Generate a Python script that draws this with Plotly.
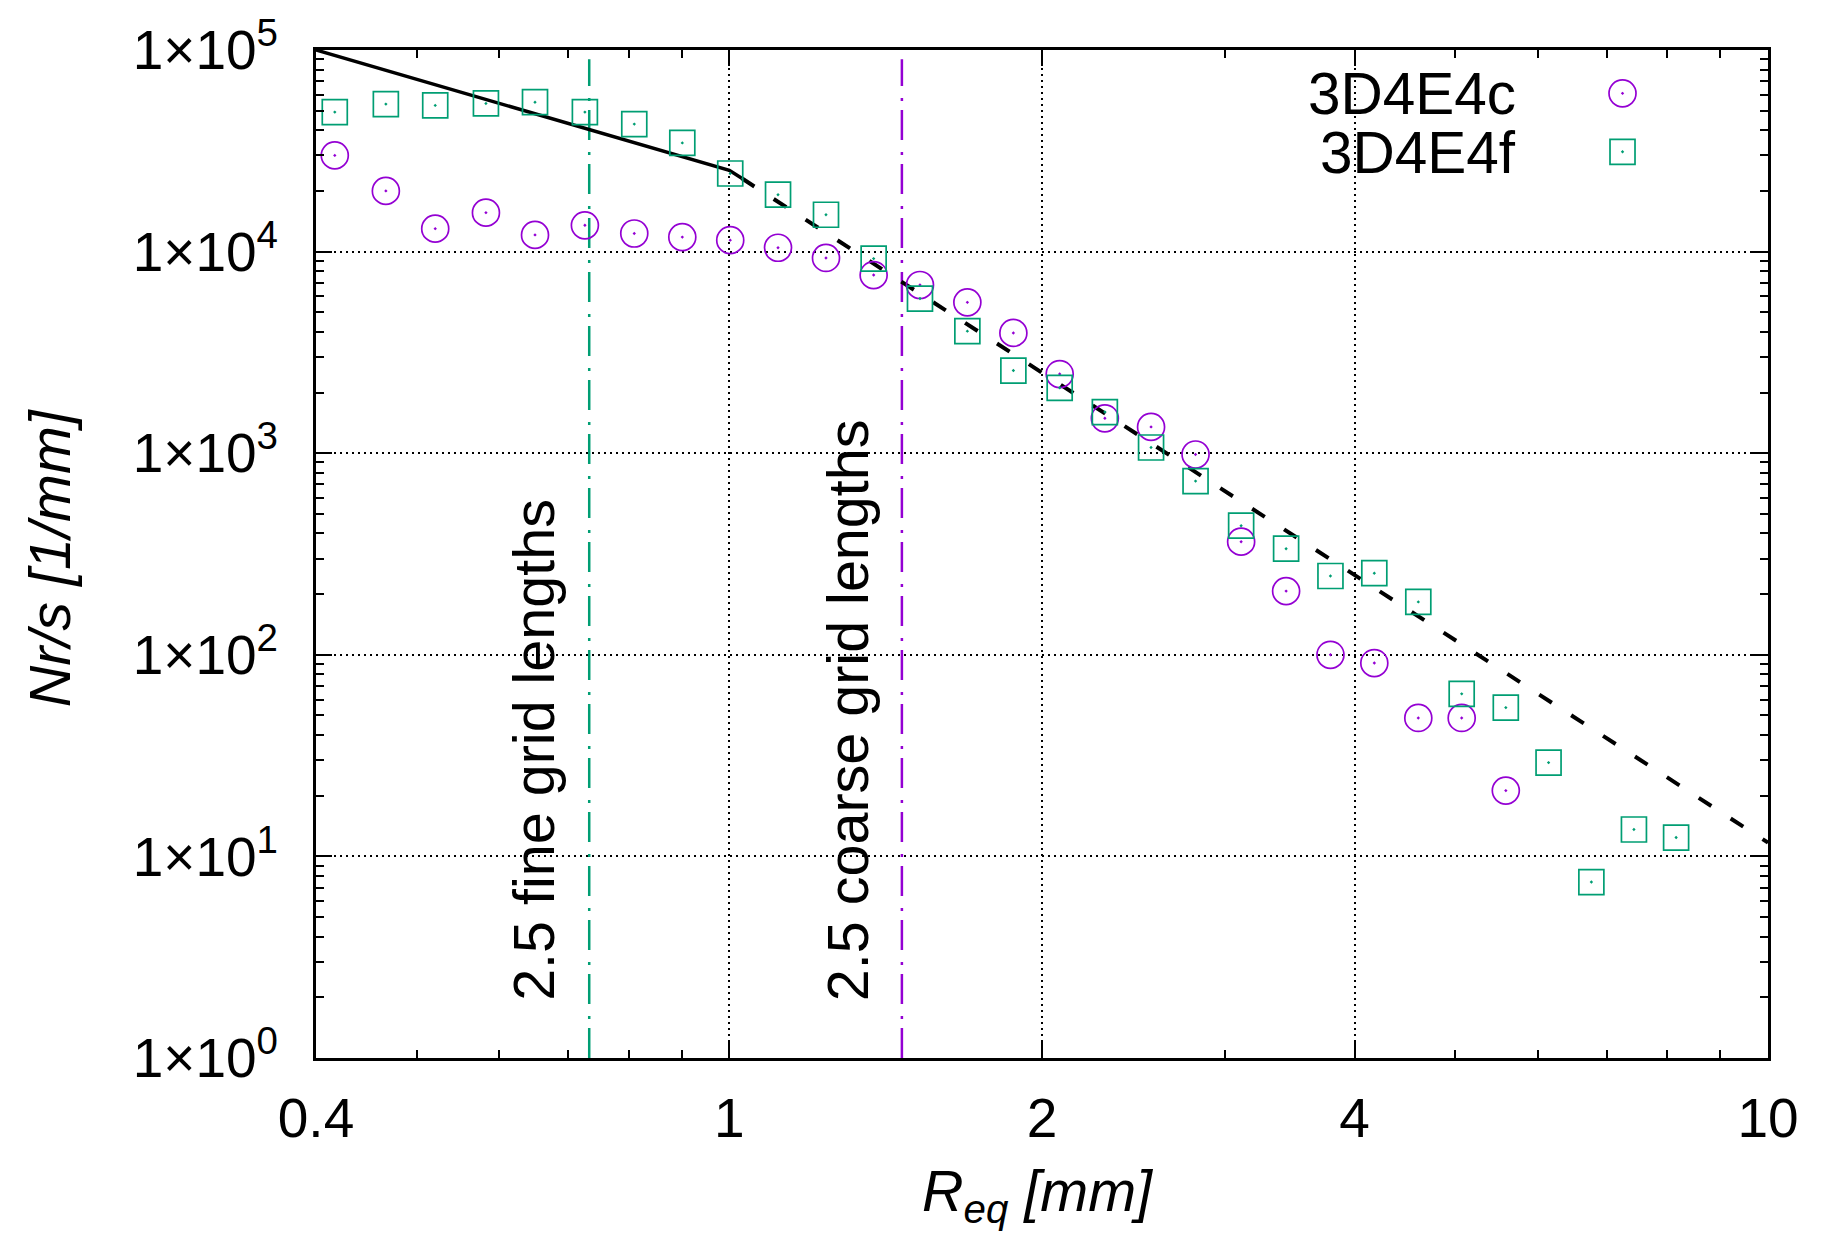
import plotly.graph_objects as go

# ---- data ----
r_eq = [0.417, 0.467, 0.521, 0.583, 0.650, 0.726, 0.810, 0.901, 1.002, 1.114,
        1.239, 1.377, 1.526, 1.695, 1.877, 2.080, 2.299, 2.547, 2.811, 3.110,
        3.436, 3.791, 4.178, 4.606, 5.071, 5.592, 6.148, 6.760, 7.429, 8.157]

nrs_3d4e4c = [30000, 20000, 13000, 15600, 12100, 13500, 12300, 11800, 11400, 10450,
              9300, 7650, 6830, 5600, 3950, 2470, 1490, 1350, 985, 364,
              207, 100, 91, 48.6, 48.6, 21.2]

nrs_3d4e4f = [49200, 53900, 53100, 54300, 55100, 49200, 42900, 34600, 24400, 19150,
              15230, 9230, 5850, 4030, 2570, 2110, 1600, 1067, 727, 437,
              336, 246, 254, 183, 64.0, 54.7, 29.2, 7.46, 13.6, 12.4]

# reference power-law lines (end points)
solid_x = [0.4, 1.0, 1.028]
solid_y = [100000, 25300, 23100]
dashed_x = [1.028, 10.0]
dashed_y = [23100, 11.7]

# grid-length markers
fine_x = 0.733
coarse_x = 1.466
vline_y = [1, 90000]

x_tickvals = [0.4, 1, 2, 4, 10]
x_ticktext = ["0.4", "1", "2", "4", "10"]
x_minor = [0.5, 0.6, 0.7, 0.8, 0.9, 3, 5, 6, 7, 8, 9]
y_tickvals = [1, 10, 100, 1000, 10000, 100000]
y_ticktext = ["1×10<sup>%d</sup>" % i for i in range(6)]
y_minor = [k * 10 ** d for d in range(5) for k in range(2, 10)]

PURPLE = "#9400d3"
GREEN = "#009e73"
FONT = "Liberation Sans, Arial, sans-serif"
FS_TICK = 55
FS_TEXT = 57.5

fig = go.Figure()

fig.add_trace(go.Scatter(x=[fine_x, fine_x], y=vline_y, mode="lines",
                         line=dict(color=GREEN, width=2.5, dash="30px,9px,3px,12px"),
                         showlegend=False, hoverinfo="skip"))
fig.add_trace(go.Scatter(x=[coarse_x, coarse_x], y=vline_y, mode="lines",
                         line=dict(color=PURPLE, width=2.5, dash="30px,9px,3px,12px"),
                         showlegend=False, hoverinfo="skip"))

fig.add_trace(go.Scatter(x=solid_x, y=solid_y, mode="lines",
                         line=dict(color="black", width=3.5), showlegend=False))
fig.add_trace(go.Scatter(x=dashed_x, y=dashed_y, mode="lines",
                         line=dict(color="black", width=4, dash="15px,23px"),
                         showlegend=False))

fig.add_trace(go.Scatter(x=r_eq[:len(nrs_3d4e4c)], y=nrs_3d4e4c, mode="markers",
                         name="3D4E4c",
                         marker=dict(symbol="circle-open-dot", size=27, color=PURPLE,
                                     line=dict(width=1.7, color=PURPLE)),
                         showlegend=False))
fig.add_trace(go.Scatter(x=r_eq, y=nrs_3d4e4f, mode="markers", name="3D4E4f",
                         marker=dict(symbol="square-open-dot", size=25, color=GREEN,
                                     line=dict(width=1.7, color=GREEN)),
                         showlegend=False))

# legend keys (gnuplot style: text on the left, symbol on the right)
legend_names = ["3D4E4c", "3D4E4f"]
legend_symbols = ["circle-open-dot", "square-open-dot"]
legend_colors = [PURPLE, GREEN]
legend_sizes = [27, 25]
legend_key_x = 0.8998
legend_key_y = [0.957, 0.899]
legend_text_x = 0.8275
legend_text_y = [0.957, 0.899]
for i in range(2):
    fig.add_trace(go.Scatter(x=[legend_key_x], y=[legend_key_y[i]], xaxis="x2", yaxis="y2",
                             mode="markers", showlegend=False, hoverinfo="skip",
                             marker=dict(symbol=legend_symbols[i], size=legend_sizes[i],
                                         color=legend_colors[i],
                                         line=dict(width=1.7, color=legend_colors[i]))))
    fig.add_annotation(x=legend_text_x, y=legend_text_y[i], xref="paper", yref="paper",
                       text=legend_names[i], showarrow=False, xanchor="right",
                       yanchor="middle", height=54, valign="middle",
                       font=dict(size=58.5, color="black", family=FONT))

# rotated labels
fig.add_annotation(x=0.150, y=0.0545, xref="paper", yref="paper",
                   text="2.5 fine grid lengths", textangle=-90, showarrow=False,
                   xanchor="center", yanchor="bottom",
                   font=dict(size=FS_TEXT, color="black", family=FONT))
fig.add_annotation(x=0.3665, y=0.0545, xref="paper", yref="paper",
                   text="2.5 coarse grid lengths", textangle=-90, showarrow=False,
                   xanchor="center", yanchor="bottom",
                   font=dict(size=FS_TEXT, color="black", family=FONT))

# axis titles
fig.add_annotation(x=-0.183, y=0.496, xref="paper", yref="paper",
                   text="<i>Nr/s [1/mm]</i>", textangle=-90, showarrow=False,
                   xanchor="center", yanchor="middle",
                   font=dict(size=FS_TEXT, color="black", family=FONT))
fig.add_annotation(x=0.497, y=-0.098, xref="paper", yref="paper",
                   text="<i>R<sub>eq</sub> [mm]</i>", showarrow=False,
                   xanchor="center", yanchor="top",
                   font=dict(size=FS_TEXT, color="black", family=FONT))

axis_common = dict(showline=True, mirror="ticks", linecolor="black", linewidth=3,
                   ticks="inside", ticklen=16, tickwidth=1.5, tickcolor="black",
                   showgrid=True, gridcolor="black", gridwidth=1.5,
                   griddash="2px,4px", zeroline=False,
                   tickfont=dict(size=FS_TICK, color="black", family=FONT))

# page body has an 8px margin, so the figure is 8px smaller and margins shifted
fig.update_layout(
    width=1840, height=1235,
    paper_bgcolor="white", plot_bgcolor="white",
    margin=dict(l=308, r=80, t=41.5, b=185, autoexpand=False),
    showlegend=False,
    xaxis=dict(type="log", range=[-0.39794, 1.0], tickmode="array",
               tickvals=x_tickvals, ticktext=x_ticktext, ticklabelstandoff=10,
               minor=dict(tickmode="array", tickvals=x_minor, ticks="inside",
                          ticklen=8, tickwidth=1.5, tickcolor="black", showgrid=False),
               **axis_common),
    yaxis=dict(type="log", range=[0, 5], tickmode="array",
               tickvals=y_tickvals, ticktext=y_ticktext, ticklabelstandoff=24,
               minor=dict(tickmode="array", tickvals=y_minor, ticks="inside",
                          ticklen=8, tickwidth=1.5, tickcolor="black", showgrid=False),
               **axis_common),
    xaxis2=dict(overlaying="x", range=[0, 1], visible=False, fixedrange=True),
    yaxis2=dict(overlaying="y", range=[0, 1], visible=False, fixedrange=True),
)

fig.write_html("out.html")
